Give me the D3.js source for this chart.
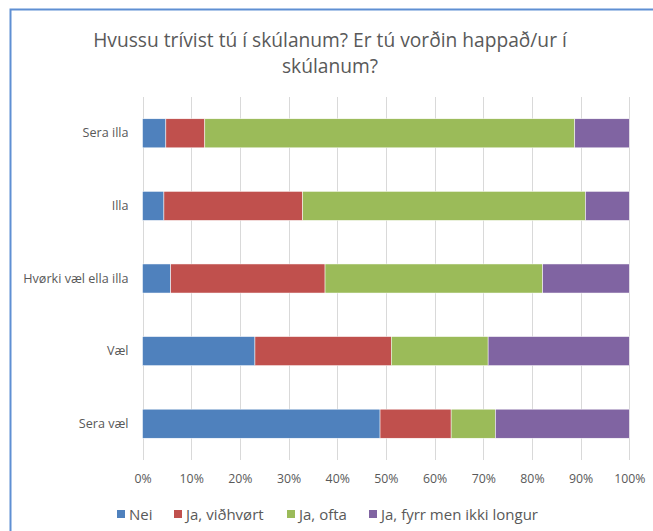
<!DOCTYPE html>
<html>
<head>
<meta charset="utf-8">
<script src="https://cdn.jsdelivr.net/npm/d3@7"></script>
<style>
  body { margin: 0; background: #fff; }
  svg text { font-family: 'Open Sans', sans-serif; fill: #595959; }
</style>
</head>
<body>
<div class="vis"></div>
<script>
// categories, top to bottom
const categories = ['Sera illa', 'Illa', 'Hvørki væl ella illa', 'Væl', 'Sera væl']
const seriesNames = ['Nei', 'Ja, viðhvørt', 'Ja, ofta', 'Ja, fyrr men ikki longur']
const colors = ['#4F81BD', '#C0504D', '#9BBB59', '#8064A2']

// percentages per series, same order as categories
const nei = [4.8, 4.4, 5.8, 23.1, 48.8]
const vidhvort = [8.0, 28.5, 31.7, 28.0, 14.6]
const ofta = [76.0, 58.1, 44.7, 19.9, 9.1]
const fyrr = [11.2, 9.0, 17.8, 29.0, 27.5]

const tickValues = [0, 0.1, 0.2, 0.3, 0.4, 0.5, 0.6, 0.7, 0.8, 0.9, 1]
const titleLines = ['Hvussu trívist tú í skúlanum? Er tú vorðin happað/ur í', 'skúlanum?']

const W = 653
const H = 531
const MARGIN = { top: 97, bottom: 71, left: 142.5, right: 23.7 }

const rows = categories.map((c, i) => {
	const vals = [nei[i], vidhvort[i], ofta[i], fyrr[i]]
	const total = d3.sum(vals)
	const row = { cat: c }
	seriesNames.forEach((s, j) => { row[s] = vals[j] / total })
	return row
})

const stacked = d3.stack().keys(seriesNames)(rows)

const svg = d3.select('.vis').append('svg')
	.attr('width', W)
	.attr('height', H)

// chart area border
svg.append('rect')
	.attr('x', 10.5)
	.attr('y', 9.5)
	.attr('width', W + 20)
	.attr('height', H + 20)
	.attr('fill', 'none')
	.attr('stroke', '#5f8fd3')
	.attr('stroke-width', 2)

const title = svg.append('text')
	.attr('text-anchor', 'middle')
	.attr('font-size', 19.2)
title.selectAll('tspan').data(titleLines).enter()
	.append('tspan')
	.attr('x', 330)
	.attr('y', (d, i) => 47 + i * 26)
	.text(d => d)

const x = d3.scaleLinear().domain([0, 1]).range([MARGIN.left, W - MARGIN.right])
const y = d3.scaleBand().domain(categories)
	.range([MARGIN.top, H - MARGIN.bottom])
	.paddingInner(0.6)
	.paddingOuter(0.3)

// gridlines
svg.append('g')
	.selectAll('line').data(tickValues).enter()
	.append('line')
	.attr('x1', d => Math.round(x(d)) + 0.5)
	.attr('x2', d => Math.round(x(d)) + 0.5)
	.attr('y1', MARGIN.top)
	.attr('y2', H - MARGIN.bottom)
	.attr('stroke', '#d9d9d9')
	.attr('stroke-width', 1)

// bars
svg.append('g')
	.selectAll('g').data(stacked).enter()
	.append('g')
	.attr('fill', (d, i) => colors[i])
	.selectAll('rect').data(d => d).enter()
	.append('rect')
	.attr('x', d => x(d[0]))
	.attr('width', d => x(d[1]) - x(d[0]))
	.attr('y', d => y(d.data.cat))
	.attr('height', y.bandwidth())
	.attr('stroke', '#fff')
	.attr('stroke-width', 0.5)

// x axis labels
const xAxis = d3.axisBottom(x)
	.tickValues(tickValues)
	.tickFormat(d3.format('.0%'))
	.tickSize(0)
	.tickPadding(14)
const xg = svg.append('g')
	.attr('transform', `translate(0,${H - MARGIN.bottom})`)
	.call(xAxis)
xg.select('.domain').remove()
xg.selectAll('text').attr('font-size', 12.3).attr('font-family', null)

// y axis labels
const yAxis = d3.axisLeft(y).tickSize(0).tickPadding(14)
const yg = svg.append('g')
	.attr('transform', `translate(${MARGIN.left},0)`)
	.call(yAxis)
yg.select('.domain').remove()
yg.selectAll('text').attr('font-size', 12.6).attr('font-family', null)

// legend
const legendX = [117, 174, 287, 369]
const legend = svg.append('g')
	.selectAll('g').data(seriesNames).enter()
	.append('g')
	.attr('transform', (d, i) => `translate(${legendX[i]},515)`)
legend.append('rect')
	.attr('x', 0)
	.attr('y', -5)
	.attr('width', 8)
	.attr('height', 8)
	.attr('fill', (d, i) => colors[i])
legend.append('text')
	.attr('x', 12)
	.attr('y', 0)
	.attr('dy', '0.35em')
	.attr('font-size', 15)
	.text(d => d)
</script>
</body>
</html>
